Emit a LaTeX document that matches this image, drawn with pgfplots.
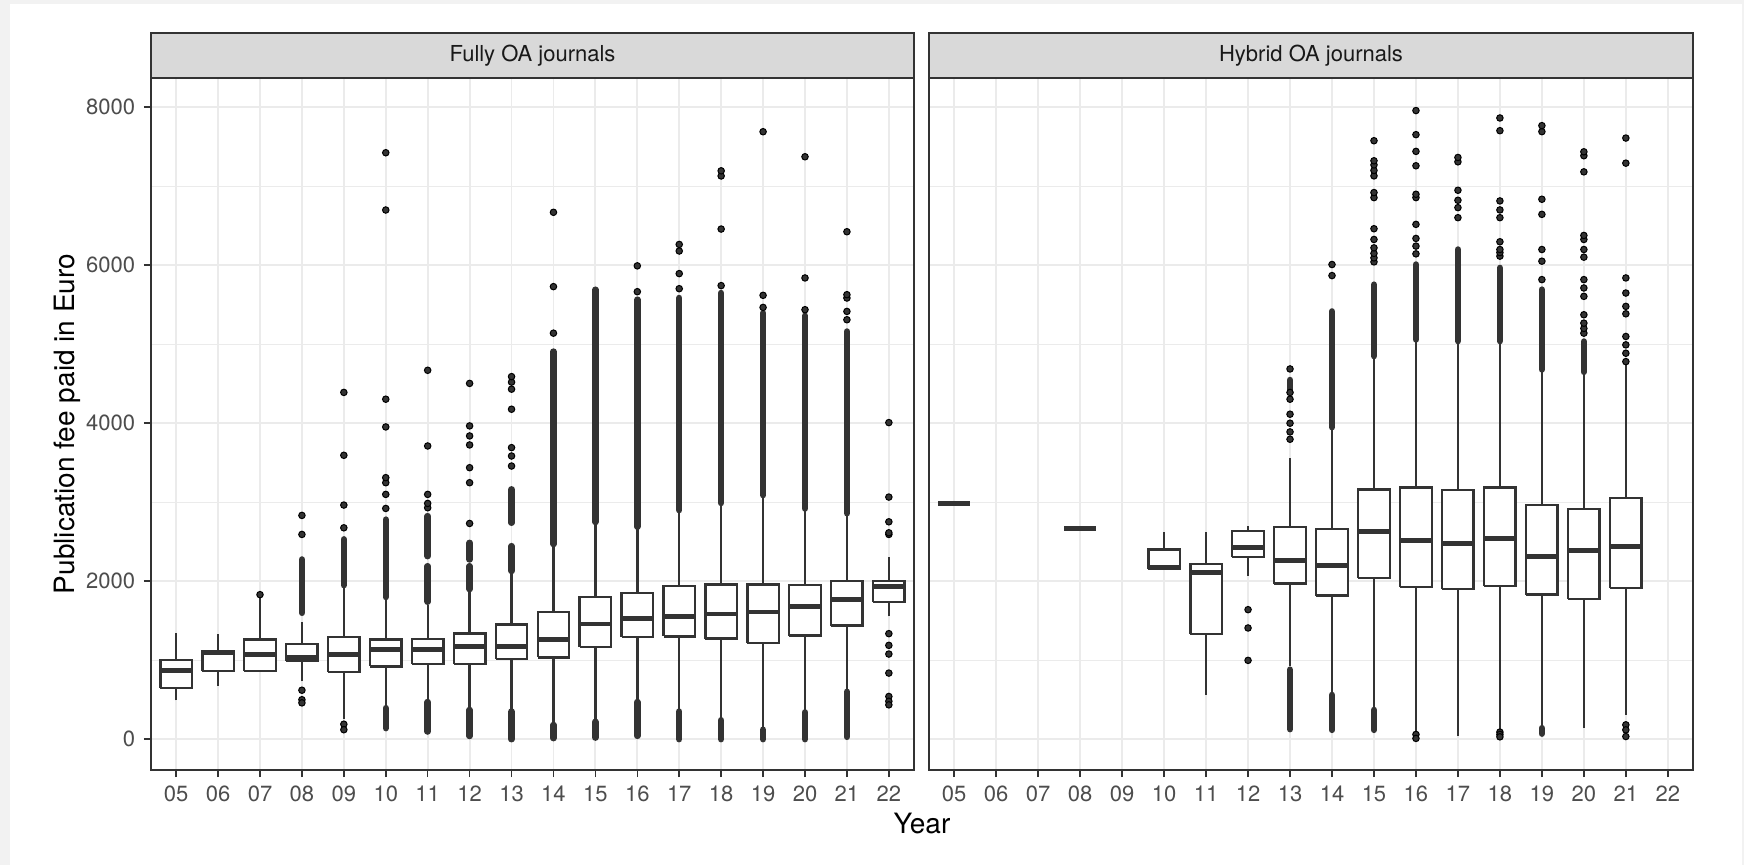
\documentclass[border=0pt]{standalone}
\usepackage{fontspec}
\setmainfont{TeX Gyre Heros}
\usepackage{pgfplots}
\pgfplotsset{compat=1.18}

\definecolor{ink}{HTML}{333333}
\definecolor{ticktxt}{HTML}{4D4D4D}
\definecolor{gridc}{HTML}{EBEBEB}
\definecolor{stripc}{HTML}{D9D9D9}
\definecolor{margin}{HTML}{F2F2F2}

\pgfplotsset{
  panel/.style={
    scale only axis, width=305.2pt, height=276.8pt, anchor=south west,
    xmin=4.4, xmax=22.6, ymin=-390, ymax=8370,
    xtick={5,...,22},
    xticklabels={05,06,07,08,09,10,11,12,13,14,15,16,17,18,19,20,21,22},
    ytick={0,2000,4000,6000,8000}, minor ytick={1000,3000,5000,7000},
    xmajorgrids, ymajorgrids, yminorgrids,
    major grid style={draw=gridc, line width=0.75pt},
    minor grid style={draw=gridc, line width=0.4pt},
    tick pos=left, tick align=outside,
    major tick length=2.8pt, minor tick length=0pt,
    tick style={draw=ink, line width=0.6pt},
    axis line style={draw=ink, line width=0.6pt},
    tick label style={font=\fontsize{8.8}{10}\selectfont, text=ticktxt},
  },
  bxline/.style={draw=ink, line width=0.95pt, no marks},
  bxmed/.style={draw=ink, line width=1.9pt, no marks},
  outl/.style={only marks, mark=*, mark size=1.3pt, mark options={draw=none, fill=ink}},
  dense/.style={draw=ink, line width=2.6pt, line cap=round, no marks},
}

% year, lower whisker, lower quartile, median, upper quartile, upper whisker
\newcommand{\bx}[6]{%
  \pgfmathsetmacro\xl{#1-0.375}%
  \pgfmathsetmacro\xr{#1+0.375}%
  \edef\boxcmds{%
    \noexpand\addplot[bxline] coordinates {(#1,#2) (#1,#3)};
    \noexpand\addplot[bxline] coordinates {(#1,#5) (#1,#6)};
    \noexpand\addplot[bxline, fill=white] coordinates {(\xl,#3) (\xr,#3) (\xr,#5) (\xl,#5) (\xl,#3)};
    \noexpand\addplot[bxmed] coordinates {(\xl,#4) (\xr,#4)};
  }\boxcmds}
% dense run of outliers: year, from, to
\newcommand{\run}[3]{\addplot[dense] coordinates {(#1,#2) (#1,#3)};}

\begin{document}
\begin{tikzpicture}
\fill[margin] (0pt,0pt) rectangle (697.6pt,346pt);
\fill[white] (4pt,0pt) rectangle (696.8pt,344.4pt);

% Fully OA journals
\begin{axis}[panel, at={(60.4pt,38pt)},
  yticklabels={0,2000,4000,6000,8000},
  ylabel={Publication fee paid in Euro},
  ylabel style={at={(axis description cs:-0.110,0.5)}, anchor=center,
    font=\fontsize{11.2}{13}\selectfont, text=black}]
\bx{5}{490}{650}{871}{1006}{1344}
\bx{6}{676}{867}{1099}{1120}{1332}
\bx{7}{865}{865}{1070}{1260}{1823}
\bx{8}{731}{994}{1040}{1209}{1480}
\bx{9}{250}{850}{1070}{1290}{1915}
\bx{10}{414}{922}{1133}{1260}{1776}
\bx{11}{499}{951}{1133}{1268}{1704}
\bx{12}{393}{951}{1175}{1336}{1873}
\bx{13}{372}{1015}{1175}{1450}{2106}
\bx{14}{203}{1036}{1260}{1611}{2444}
\bx{15}{245}{1167}{1459}{1801}{2719}
\bx{16}{499}{1294}{1531}{1852}{2655}
\bx{17}{380}{1302}{1556}{1936}{2867}
\bx{18}{266}{1273}{1586}{1958}{2960}
\bx{19}{140}{1218}{1611}{1958}{3057}
\bx{20}{372}{1311}{1683}{1949}{2888}
\bx{21}{626}{1438}{1767}{2000}{2824}
\bx{22}{1556}{1738}{1936}{2000}{2304}
\run{8}{1600}{2275}
\run{9}{1950}{2530}
\run{10}{1800}{2780} \run{10}{140}{393}
\run{11}{1740}{2190} \run{11}{2317}{2824} \run{11}{97}{470}
\run{12}{1900}{2190} \run{12}{2275}{2486} \run{12}{40}{370}
\run{13}{2130}{2444} \run{13}{2740}{3163} \run{13}{0}{350}
\run{14}{2470}{4907} \run{14}{13}{180}
\run{15}{2750}{5690} \run{15}{20}{220}
\run{16}{2690}{5564} \run{16}{42}{470}
\run{17}{2900}{5585} \run{17}{0}{350}
\run{18}{2990}{5648} \run{18}{0}{240}
\run{19}{3090}{5394} \run{19}{0}{120}
\run{20}{2920}{5360} \run{20}{0}{340}
\run{21}{2860}{5161} \run{21}{30}{600}
\addplot[outl] coordinates {
  (7,1830)
  (8,2592) (8,2833) (8,620) (8,500) (8,460)
  (9,2676) (9,2964) (9,3594) (9,4390) (9,190) (9,120)
  (10,2921) (10,3099) (10,3247) (10,3311) (10,3953) (10,4304) (10,6699) (10,7424)
  (11,2930) (11,2985) (11,3099) (11,3712) (11,4670)
  (12,2731) (12,3247) (12,3437) (12,3725) (12,3839) (12,3966) (12,4504)
  (13,3458) (13,3585) (13,3691) (13,4177) (13,4431) (13,4520) (13,4590)
  (14,5140) (14,5729) (14,6670)
  (16,5665) (16,5992)
  (17,5703) (17,5894) (17,6180) (17,6263)
  (18,5742) (18,6458) (18,7130) (18,7195)
  (19,5466) (19,5619) (19,7690)
  (20,5437) (20,5839) (20,7373)
  (21,5310) (21,5415) (21,5585) (21,5627) (21,6424)
  (22,2592) (22,2613) (22,2752) (22,3065) (22,4008)
  (22,1336) (22,1188) (22,1078) (22,837) (22,541) (22,480) (22,435)
};
\end{axis}

% Hybrid OA journals
\begin{axis}[panel, at={(371.6pt,38pt)}, width=305.6pt,
  yticklabels={}, ytick style={draw=none}]
\bx{5}{2985}{2985}{2985}{2985}{2985}
\bx{8}{2664}{2664}{2664}{2664}{2664}
\bx{10}{2156}{2156}{2169}{2402}{2621}
\bx{11}{562}{1332}{2106}{2220}{2621}
\bx{12}{2072}{2304}{2423}{2634}{2697}
\bx{13}{922}{1970}{2262}{2685}{3564}
\bx{14}{583}{1818}{2203}{2664}{3924}
\bx{15}{393}{2038}{2626}{3163}{4822}
\bx{16}{97}{1928}{2516}{3184}{5034}
\bx{17}{42}{1903}{2473}{3154}{5013}
\bx{18}{118}{1936}{2545}{3184}{5013}
\bx{19}{161}{1831}{2317}{2964}{4653}
\bx{20}{140}{1776}{2389}{2917}{4632}
\bx{21}{309}{1915}{2444}{3057}{4759}
\run{13}{4420}{4547} \run{13}{127}{880}
\run{14}{3950}{5415} \run{14}{118}{560}
\run{15}{4850}{5754} \run{15}{118}{370}
\run{16}{5060}{6009}
\run{17}{5040}{6199}
\run{18}{5040}{5966}
\run{19}{4680}{5691} \run{19}{70}{140}
\run{20}{4650}{5034}
\addplot[outl] coordinates {
  (12,1640) (12,1408) (12,998)
  (13,3797) (13,3890) (13,4000) (13,4114) (13,4304) (13,4389) (13,4687)
  (14,5869) (14,6009)
  (15,6042) (15,6093) (15,6150) (15,6220) (15,6326) (15,6462) (15,6856)
  (15,6920) (15,7131) (15,7200) (15,7270) (15,7322) (15,7576)
  (16,60) (16,10) (16,6144) (16,6242) (16,6339) (16,6517) (16,6856)
  (16,6898) (16,7259) (16,7441) (16,7653) (16,7958)
  (17,6602) (17,6729) (17,6822) (17,6949) (17,7309) (17,7364)
  (18,90) (18,60) (18,30) (18,6115) (18,6160) (18,6199) (18,6297)
  (18,6602) (18,6700) (18,6814) (18,7703) (18,7864)
  (19,5818) (19,6051) (19,6199) (19,6644) (19,6835) (19,7691) (19,7767)
  (20,5140) (20,5200) (20,5267) (20,5373) (20,5606) (20,5712) (20,5818)
  (20,6102) (20,6199) (20,6326) (20,6377) (20,7182) (20,7386) (20,7436)
  (21,182) (21,118) (21,34) (21,4780) (21,4886) (21,4992) (21,5098)
  (21,5385) (21,5479) (21,5648) (21,5839) (21,7292) (21,7610)
};
\end{axis}

% facet strips
\draw[fill=stripc, draw=ink, line width=0.6pt] (60.4pt,314.8pt) rectangle (365.6pt,332.8pt);
\draw[fill=stripc, draw=ink, line width=0.6pt] (371.6pt,314.8pt) rectangle (677.2pt,332.8pt);
\node[text=black!90, font=\fontsize{8.8}{10}\selectfont] at (213pt,323.8pt) {Fully OA journals};
\node[text=black!90, font=\fontsize{8.8}{10}\selectfont] at (524.4pt,323.8pt) {Hybrid OA journals};
\node[font=\fontsize{11.2}{13}\selectfont] at (368.8pt,16.8pt) {Year};
\end{tikzpicture}
\end{document}
